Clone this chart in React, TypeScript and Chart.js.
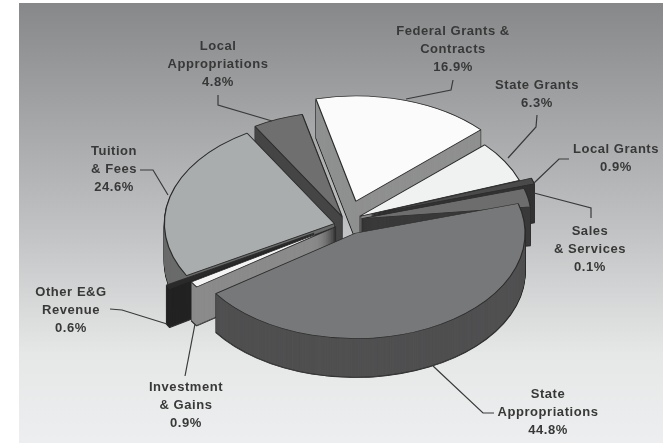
import React, { useEffect, useRef } from "react";
import { Chart, registerables } from "chart.js";

Chart.register(...registerables);

// ---- data (clockwise from the top of the pie) ----
const categories = [
  "Federal Grants & Contracts",
  "State Grants",
  "Local Grants",
  "Sales & Services",
  "State Appropriations",
  "Investment & Gains",
  "Other E&G Revenue",
  "Tuition & Fees",
  "Local Appropriations",
];
const shares = [16.9, 6.3, 0.9, 0.1, 44.8, 0.9, 0.6, 24.6, 4.8];
const labelLines = [
  ["Federal Grants &", "Contracts"],
  ["State Grants"],
  ["Local Grants"],
  ["Sales", "& Services"],
  ["State", "Appropriations"],
  ["Investment", "& Gains"],
  ["Other E&G", "Revenue"],
  ["Tuition", "& Fees"],
  ["Local", "Appropriations"],
];

// ---- styles ----
const topColors = ["#fbfbfb", "#f0f1f1", "#4a4a4a", "#6d6d6d", "#777879", "#f4f4f4", "#2a2a2a", "#a9adae", "#6f6f6f"];
const sideColors = ["#8f9090", "#8a8a8a", "#333333", "#3a3a3a", "#505051", "#8b8b8b", "#232323", "#6a6b6b", "#454545"];
const explode = [34, 16, 27, 16, 21, 12, 37, 12, 10];
const dropY = [0, 0, -2, 0, 0, 1, 0, 4, 1];
const extraSweepDeg = [0, 0, 0, 10, 0, 0, 0, 0, 0];
const paintOrder = [0, 8, 1, 2, 3, 7, 6, 5, 4];
const labelX = [453, 537, 616, 590, 548, 186, 71, 114, 218];
const labelY = [31, 85, 149, 231, 394, 387, 292, 151, 46];
const leaders = [
  [[453, 80], [451, 90], [406, 99]],
  [[537, 115], [536, 127], [508, 158]],
  [[569, 159], [559, 159], [534, 183]],
  [[534, 193], [591, 208], [591, 218]],
  [[433, 366], [483, 413], [494, 413]],
  [[195, 324], [185, 376]],
  [[110, 309], [122, 310], [167, 324]],
  [[140, 170], [153, 170], [168, 195]],
  [[218, 95], [218, 105], [272, 121]],
];
const SQUASH = 0.62;
const DEPTH = 39;
const RADIUS = 170;

const piePlugin = {
  id: "pie3d",
  beforeDraw(chart: any) {
    const { ctx, width, height } = chart;
    const g = ctx.createLinearGradient(0, 3, 0, height);
    g.addColorStop(0, "#87888a");
    g.addColorStop(0.5, "#bfc0c1");
    g.addColorStop(0.8, "#e6e7e7");
    g.addColorStop(1, "#edeeef");
    ctx.save();
    ctx.fillStyle = "#ffffff";
    ctx.fillRect(0, 0, width, height);
    ctx.fillStyle = g;
    ctx.fillRect(19, 3, width - 19, height - 3);
    ctx.restore();
  },
  beforeDatasetDraw(chart: any, args: any) {
    const { ctx } = chart;
    const arcs = chart.getDatasetMeta(args.index).data;
    const place = (arc: any, i: number, dy: number) => {
      const s = RADIUS / arc.outerRadius;
      const mid = (arc.startAngle + arc.endAngle) / 2;
      ctx.translate(
        arc.x + Math.cos(mid) * explode[i],
        arc.y + Math.sin(mid) * explode[i] * SQUASH + dy + dropY[i],
      );
      ctx.scale(s, s * SQUASH);
      ctx.translate(-arc.x, -arc.y);
    };
    const drawArc = (arc: any, i: number, dy: number, fill: string, bw: number) => {
      const saved = arc.options;
      const savedEnd = arc.endAngle;
      ctx.save();
      place(arc, i, dy);
      arc.endAngle = savedEnd + (extraSweepDeg[i] * Math.PI) / 180;
      arc.options = { ...saved, backgroundColor: fill, borderColor: "#2b2b2b", borderWidth: bw, offset: 0 };
      arc.draw(ctx);
      arc.options = saved;
      arc.endAngle = savedEnd;
      ctx.restore();
    };
    for (const i of paintOrder) {
      const arc = arcs[i];
      for (let k = DEPTH; k >= 1; k -= 1) drawArc(arc, i, k, sideColors[i], 1.3);
      for (let k = DEPTH - 1; k >= 1; k -= 0.5) drawArc(arc, i, k, sideColors[i], 0);
      drawArc(arc, i, 0, topColors[i], 1.2);
    }
    return false;
  },
  afterDraw(chart: any) {
    const { ctx } = chart;
    ctx.save();
    ctx.strokeStyle = "#3a3a3a";
    ctx.lineWidth = 1.2;
    leaders.forEach((pts) => {
      ctx.beginPath();
      pts.forEach(([x, y], j) => (j ? ctx.lineTo(x, y) : ctx.moveTo(x, y)));
      ctx.stroke();
    });
    ctx.fillStyle = "#383838";
    ctx.font = "bold 13px 'Liberation Sans'";
    ctx.letterSpacing = "0.55px";
    ctx.textAlign = "center";
    ctx.textBaseline = "middle";
    shares.forEach((v, i) => {
      const lines = [...labelLines[i], `${v.toFixed(1)}%`];
      lines.forEach((t, j) => ctx.fillText(t, labelX[i], labelY[i] + j * 18.3));
    });
    ctx.restore();
  },
};

export default function App() {
  const ref = useRef<HTMLCanvasElement>(null);
  useEffect(() => {
    const chart = new Chart(ref.current as HTMLCanvasElement, {
      type: "pie",
      data: {
        labels: categories,
        datasets: [{ data: shares, backgroundColor: topColors, borderWidth: 0 }],
      },
      options: {
        responsive: false,
        animation: false,
        rotation: -13.6,
        layout: { padding: { left: 176, right: 147, top: 51.5, bottom: 51.5 } },
        plugins: { legend: { display: false }, tooltip: { enabled: false } },
      },
      plugins: [piePlugin],
    } as any);
    return () => chart.destroy();
  }, []);
  return (
    <canvas
      ref={ref}
      width={663}
      height={443}
      style={{ position: "fixed", left: 0, top: 0, width: 663, height: 443, filter: "blur(0.5px)" }}
    />
  );
}
